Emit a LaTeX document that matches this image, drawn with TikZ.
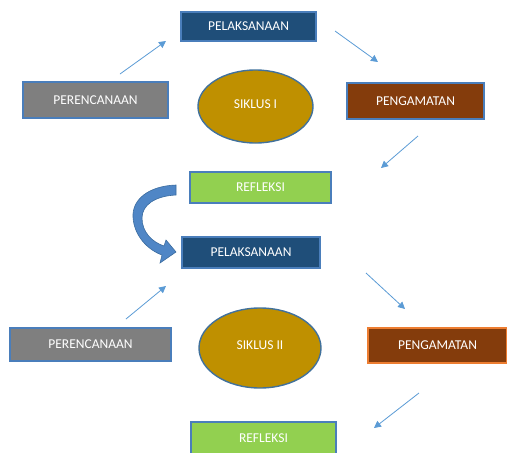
\documentclass[tikz,border=0pt]{standalone}
\usepackage{fontspec}
\setmainfont{Carlito}
\usetikzlibrary{shapes.geometric,arrows.meta}
\definecolor{bordblue}{HTML}{4A7EBB}
\definecolor{plkfill}{HTML}{1F4E79}
\definecolor{prcfill}{HTML}{7F7F7F}
\definecolor{pngfill}{HTML}{843C0C}
\definecolor{rflfill}{HTML}{92D050}
\definecolor{elfill}{HTML}{BF9000}
\definecolor{elbord}{HTML}{41719C}
\definecolor{arrblue}{HTML}{5B9BD5}
\definecolor{orangeb}{HTML}{ED7D31}
\definecolor{curvefill}{HTML}{4F86C6}
\definecolor{curvedraw}{HTML}{3B6C9F}
\tikzset{
  box/.style={draw=bordblue, line width=1.4pt, inner sep=0pt, text=white,
    font=\fontsize{13.5}{15}\selectfont},
  oval/.style={ellipse, draw=elbord, fill=elfill, line width=1.4pt, inner sep=0pt,
    text=white, font=\fontsize{13.5}{15}\selectfont},
  conn/.style={draw=arrblue, line width=0.8pt, -{Triangle[length=7pt,width=7pt]}}
}
\begin{document}
\begin{tikzpicture}[x=1pt,y=-1pt]
\useasboundingbox (0,0) rectangle (507,453);
% Cycle I
\node[box, fill=plkfill, minimum width=135pt, minimum height=29pt] (p1) at (248.5,26.5) {PELAKSANAAN};
\node[box, fill=prcfill, minimum width=145pt, minimum height=36pt] (r1) at (95.5,100) {PERENCANAAN};
\node[oval, minimum width=115pt, minimum height=73pt] (s1) at (255.5,106.5) {\raisebox{4pt}{SIKLUS I}};
\node[box, fill=pngfill, minimum width=137pt, minimum height=36pt] (g1) at (415.5,101) {PENGAMATAN};
\node[box, fill=rflfill, minimum width=141pt, minimum height=31pt] (f1) at (260.5,187.5) {REFLEKSI};
\coordinate (a1s) at (120,74);  \coordinate (a1e) at (166,41);
\coordinate (a2s) at (335,31);  \coordinate (a2e) at (378,62);
\coordinate (a3s) at (418,136); \coordinate (a3e) at (381,168);
\draw[conn] (a1s) -- (a1e);
\draw[conn] (a2s) -- (a2e);
\draw[conn] (a3s) -- (a3e);
% Cycle II
\node[box, fill=plkfill, minimum width=138pt, minimum height=31pt] (p2) at (251,252.5) {PELAKSANAAN};
\node[box, fill=prcfill, minimum width=161pt, minimum height=33pt] (r2) at (90.5,344.5) {PERENCANAAN};
\node[oval, minimum width=122pt, minimum height=80pt] (s2) at (260,348) {\raisebox{5pt}{SIKLUS II}};
\node[box, draw=orangeb, fill=pngfill, minimum width=139pt, minimum height=35pt] (g2) at (437.5,345.5) {PENGAMATAN};
\node[box, fill=rflfill, minimum width=145pt, minimum height=32pt] (f2) at (263.5,438) {REFLEKSI};
\coordinate (b1s) at (126,319); \coordinate (b1e) at (166,286);
\coordinate (b2s) at (366,273); \coordinate (b2e) at (405,309);
\coordinate (b3s) at (419,393); \coordinate (b3e) at (374,428);
\draw[conn] (b1s) -- (b1e);
\draw[conn] (b2s) -- (b2e);
\draw[conn] (b3s) -- (b3e);
% curved block arrow from REFLEKSI to PELAKSANAAN
\path[fill=curvefill, draw=curvedraw, line width=0.6pt]
  (176,185) .. controls (148,186) and (132,200) .. (133,217)
  .. controls (134,236) and (148,250) .. (162,255)
  -- (160,263) -- (176,252) -- (166,240) -- (164,246)
  .. controls (152,242) and (142,232) .. (142,218)
  .. controls (142,205) and (155,196) .. (176,195) -- cycle;
\end{tikzpicture}
\end{document}
